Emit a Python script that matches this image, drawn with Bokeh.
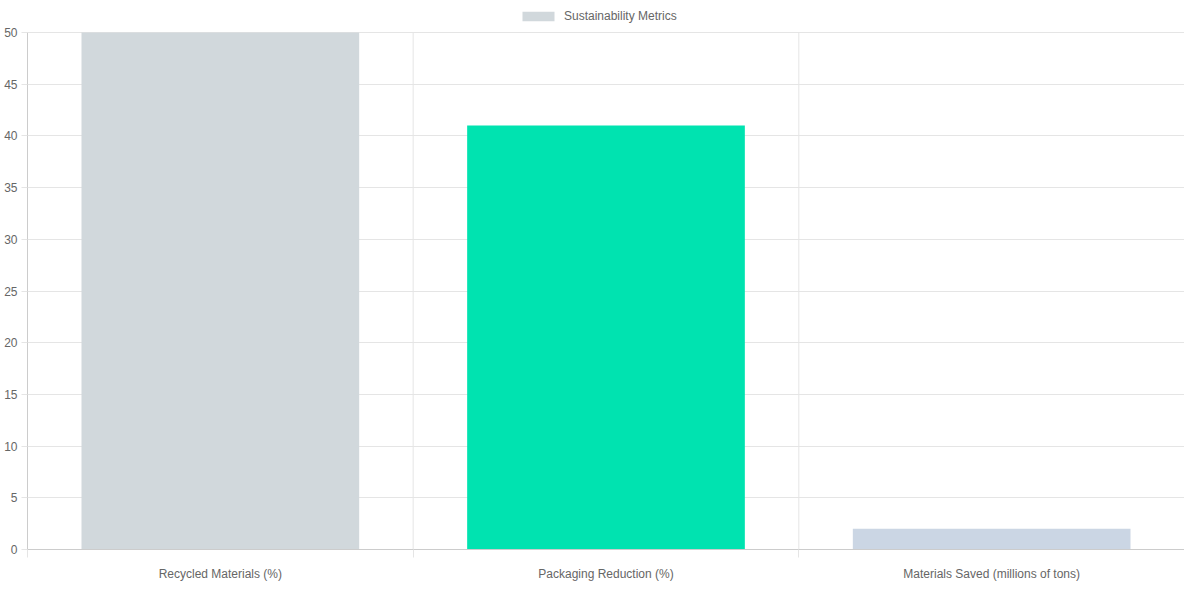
from bokeh.plotting import figure
from bokeh.models import FixedTicker, Legend, LegendItem, ColumnDataSource, Range1d
from bokeh.embed import file_html
from bokeh.resources import INLINE

categories = ["Recycled Materials (%)", "Packaging Reduction (%)", "Materials Saved (millions of tons)"]
values = [50, 41, 2]
colors = ["#D1D8DC", "#00E3B0", "#CBD6E4"]
series_name = "Sustainability Metrics"
y_ticks = list(range(0, 55, 5))

FONT = "Liberation Sans"
TEXT = "#666666"
GRID = "#e5e5e5"

FRAME_W = 1157
FRAME_H = 549
TOP_PAD = 32  # pixels reserved above the top tick for the legend

n = len(categories)
centers = [i + 0.5 for i in range(n)]
bounds = list(range(n + 1))
y_top = max(y_ticks)
y_max = y_top * FRAME_H / (FRAME_H - TOP_PAD)

src = ColumnDataSource(dict(x=centers, top=values, color=colors, cat=categories))

p = figure(frame_width=FRAME_W, frame_height=FRAME_H, output_backend="svg", toolbar_location=None,
           x_range=Range1d(0, n), y_range=Range1d(0, y_max),
           min_border_left=27, min_border_right=0, min_border_top=0, min_border_bottom=0)
p.outline_line_color = None
p.background_fill_color = "white"
p.border_fill_color = "white"

# category boundary lines (Chart.js-style offset grid)
p.segment(x0=bounds, y0=[0] * len(bounds), x1=bounds, y1=[y_top] * len(bounds),
          line_color=GRID, line_width=1)

r = p.vbar(x="x", top="top", width=0.72, fill_color="color", line_color=None, source=src)

# x axis: labels at centers, tick marks at category boundaries
xa = p.xaxis[0]
xa.ticker = FixedTicker(ticks=centers, minor_ticks=bounds)
xa.major_label_overrides = {c: cat for c, cat in zip(centers, categories)}
xa.major_tick_out = 0
xa.major_tick_in = 0
xa.minor_tick_out = 8
xa.minor_tick_in = 0
xa.minor_tick_line_color = GRID
xa.axis_line_color = "#cccccc"
xa.major_label_standoff = 9
xa.major_label_text_font = FONT
xa.major_label_text_font_size = "12px"
xa.major_label_text_color = TEXT

ya = p.yaxis[0]
ya.ticker = FixedTicker(ticks=y_ticks)
ya.bounds = (0, y_top)
ya.major_tick_out = 6
ya.major_tick_in = 0
ya.minor_tick_out = 0
ya.minor_tick_in = 0
ya.major_tick_line_color = GRID
ya.axis_line_color = "#cccccc"
ya.major_label_standoff = 4
ya.major_label_text_font = FONT
ya.major_label_text_font_size = "12px"
ya.major_label_text_color = TEXT

p.xgrid.visible = False
p.ygrid.ticker = FixedTicker(ticks=y_ticks)
p.ygrid.grid_line_color = GRID

legend = Legend(items=[LegendItem(label=series_name, renderers=[r], index=0)],
                orientation="horizontal", location=(491, FRAME_H - 23),
                glyph_width=40, glyph_height=12, label_standoff=6,
                label_text_font=FONT, label_text_font_size="12px", label_text_color=TEXT,
                border_line_color=None, background_fill_alpha=0,
                padding=3, margin=0)
p.add_layout(legend, "center")

open("out.html", "w").write(file_html(p, INLINE))
